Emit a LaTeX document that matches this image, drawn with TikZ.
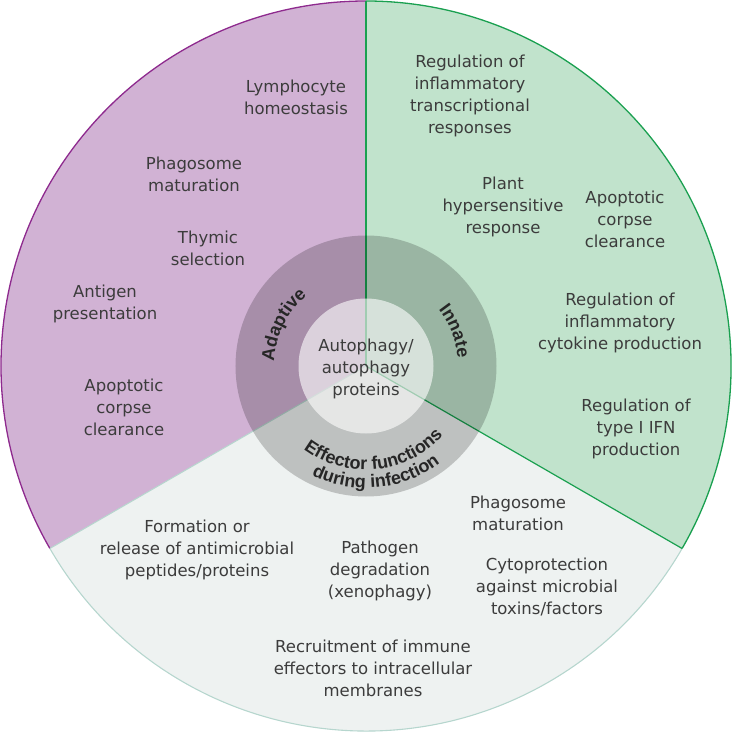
\documentclass[tikz,border=0pt]{standalone}
\usepackage{fontspec}
\setmainfont{DejaVu Sans}
\newfontfamily\ringfam{Liberation Sans}
\usetikzlibrary{decorations.text}
\definecolor{purp}{HTML}{D1B2D4}
\definecolor{purpline}{HTML}{8E2A8E}
\definecolor{grn}{HTML}{C1E3CC}
\definecolor{grnline}{HTML}{1AA050}
\definecolor{botc}{HTML}{EEF2F1}
\definecolor{botline}{HTML}{B6D6CE}
\definecolor{txt}{HTML}{3C3C3C}
\definecolor{ringtxt}{HTML}{262626}
\newcommand{\ringfmt}{\ringfam\bfseries\fontsize{18}{20}\selectfont\color{ringtxt}}
\tikzset{
  lab/.style={align=center, text=txt, inner sep=0pt, font=\fontsize{16.5}{22}\selectfont},
  ringlab/.style={decorate, decoration={text along path, text align=center, text={#1}}},
}
\begin{document}
\begin{tikzpicture}[x=1pt,y=1pt]
\useasboundingbox (-366,-367) rectangle (367,366);
\coordinate (c) at (0,0);
\coordinate (top) at (90:365);
\coordinate (rgt) at (-30:365);
\coordinate (lft) at (210:365);
% sectors
\fill[purp] (c) -- (top) arc[start angle=90,end angle=210,radius=365] -- cycle;
\fill[grn] (c) -- (rgt) arc[start angle=-30,end angle=90,radius=365] -- cycle;
\fill[botc] (c) -- (lft) arc[start angle=210,end angle=330,radius=365] -- cycle;
% outer arcs
\draw[purpline, line width=1.3pt] (top) arc[start angle=90,end angle=210,radius=365];
\draw[grnline, line width=1.3pt] (rgt) arc[start angle=-30,end angle=90,radius=365];
\draw[botline, line width=1.1pt] (lft) arc[start angle=210,end angle=330,radius=365];
% dividers
\draw[botline, line width=1pt] (c) -- (lft);
\draw[grnline, line width=1.2pt] (c) -- (top);
\draw[grnline, line width=1.2pt] (c) -- (rgt);
% ring and inner disc
\fill[black, fill opacity=0.2] (c) circle[radius=130.5];
\fill[white, fill opacity=0.6] (c) circle[radius=67.5];
% ring labels
\begin{scope}
\ringfmt
\path[ringlab={|\ringfmt|Adaptive}] (193.5:92) arc[start angle=193.5,end angle=113.5,radius=92];
\path[ringlab={|\ringfmt|Innate}] (61.5:92) arc[start angle=61.5,end angle=-18.5,radius=92];
\path[ringlab={|\ringfmt|Effector functions}] (205.5:104) arc[start angle=205.5,end angle=345.5,radius=104];
\path[ringlab={|\ringfmt|during infection}] (205.5:122) arc[start angle=205.5,end angle=345.5,radius=122];
\end{scope}
% centre
\node[lab] (core) at (0,-3) {Autophagy/\\autophagy\\proteins};
% adaptive
\node[lab] (a1) at (-70,269) {Lymphocyte\\homeostasis};
\node[lab] (a2) at (-172,192) {Phagosome\\maturation};
\node[lab] (a3) at (-158,118) {Thymic\\selection};
\node[lab] (a4) at (-261,62) {Antigen\\presentation};
\node[lab] (a5) at (-242,-41) {Apoptotic\\corpse\\clearance};
% innate
\node[lab] (i1) at (104,270) {Regulation of\\inflammatory\\transcriptional\\responses};
\node[lab] (i2) at (137,159) {Plant\\hypersensitive\\response};
\node[lab] (i3) at (259,147) {Apoptotic\\corpse\\clearance};
\node[lab] (i4) at (254,43) {Regulation of\\inflammatory\\cytokine production};
\node[lab] (i5) at (270,-63) {Regulation of\\type I IFN\\production};
% effector
\node[lab] (e1) at (152,-147) {Phagosome\\maturation};
\node[lab] (e2) at (-169,-184) {Formation or\\release of antimicrobial\\peptides/proteins};
\node[lab] (e3) at (14,-205) {Pathogen\\degradation\\(xenophagy)};
\node[lab] (e4) at (181,-221) {Cytoprotection\\against microbial\\toxins/factors};
\node[lab] (e5) at (7,-302) {Recruitment of immune\\effectors to intracellular\\membranes};
\end{tikzpicture}
\end{document}
